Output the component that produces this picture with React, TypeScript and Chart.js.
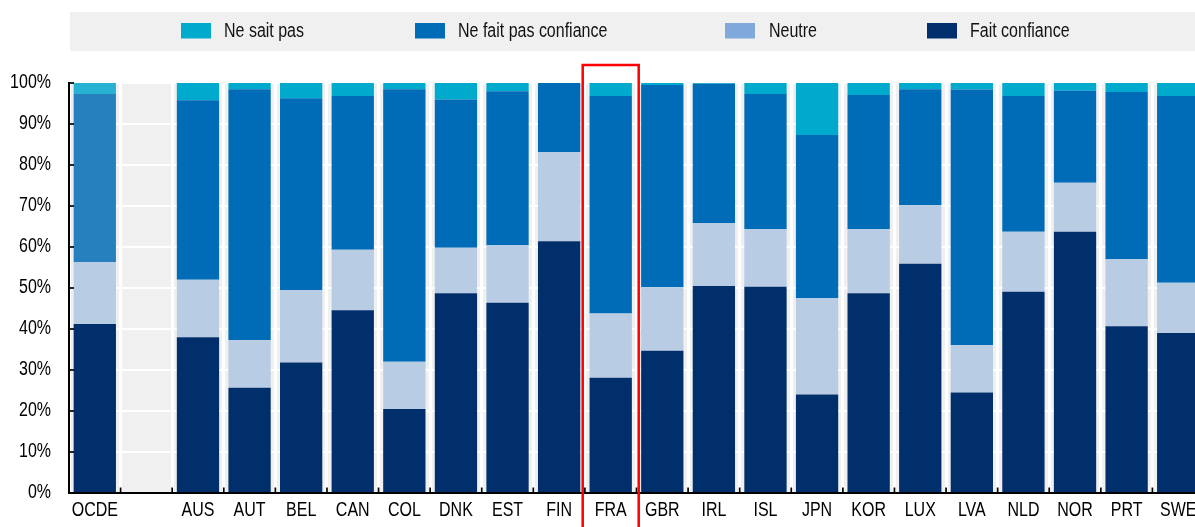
import React, { useEffect, useRef } from "react";
import { Chart, registerables } from "chart.js";

Chart.register(...registerables);

const categories = ["OCDE", "", "AUS", "AUT", "BEL", "CAN", "COL", "DNK", "EST", "FIN", "FRA", "GBR", "IRL", "ISL", "JPN", "KOR", "LUX", "LVA", "NLD", "NOR", "PRT", "SWE"];
const faitConfiance = [41.2, null, 38.0, 25.7, 31.8, 44.6, 20.5, 48.7, 46.4, 61.4, 28.1, 34.7, 50.5, 50.3, 24.0, 48.7, 55.9, 24.5, 49.1, 63.7, 40.7, 39.0];
const neutre = [15.1, null, 14.0, 11.6, 17.7, 14.7, 11.5, 11.1, 14.1, 21.7, 15.7, 15.5, 15.3, 14.0, 23.5, 15.6, 14.3, 11.6, 14.6, 12.0, 16.3, 12.3];
const neFaitPasConfiance = [41.0, null, 43.8, 61.2, 46.8, 37.5, 66.5, 36.2, 37.5, 16.9, 53.0, 49.3, 34.0, 33.0, 39.8, 32.8, 28.3, 62.3, 33.1, 22.4, 40.8, 45.5];
const neSaitPas = [2.7, null, 4.2, 1.5, 3.7, 3.2, 1.5, 4.0, 2.0, 0, 3.2, 0.5, 0.2, 2.7, 12.7, 2.9, 1.5, 1.6, 3.2, 1.9, 2.2, 3.2];
const yTicks = [0, 10, 20, 30, 40, 50, 60, 70, 80, 90, 100];
const highlighted = "FRA";
const average = "OCDE";

const FONT = "'Liberation Sans', Arial, sans-serif";
const NARROW = 0.82;

// legend layout (item label, square colour, square x, text x)
const legendItems = [
  { label: "Ne sait pas", color: "#00AACC", sx: 181, tx: 224 },
  { label: "Ne fait pas confiance", color: "#006BB6", sx: 415, tx: 458 },
  { label: "Neutre", color: "#80A8DA", sx: 725, tx: 769 },
  { label: "Fait confiance", color: "#002F6C", sx: 927, tx: 970 },
];

const colorFor = (base: string, avg: string) => (ctx: any) =>
  categories[ctx.dataIndex] === average ? avg : base;

function narrowText(ctx: any, text: string, x: number, y: number, align: string) {
  ctx.save();
  ctx.translate(x, y);
  ctx.scale(NARROW, 1);
  ctx.textAlign = align;
  ctx.fillText(text, 0, 0);
  ctx.restore();
}

const customPlugin = {
  id: "custom",
  beforeDraw(chart: any) {
    const { ctx, chartArea } = chart;
    ctx.save();
    ctx.fillStyle = "#F0F0F0";
    ctx.fillRect(chartArea.left, chartArea.top, chartArea.right - chartArea.left, chartArea.bottom - chartArea.top);
    // legend box
    ctx.fillRect(70, 12, chart.width - 70, 39);
    ctx.font = `19.5px ${FONT}`;
    ctx.textBaseline = "middle";
    legendItems.forEach((it) => {
      ctx.fillStyle = it.color;
      ctx.fillRect(it.sx, 23, 30, 15.5);
      ctx.fillStyle = "#111";
      narrowText(ctx, it.label, it.tx, 31.5, "left");
    });
    ctx.restore();
  },
  afterDraw(chart: any) {
    const { ctx, chartArea } = chart;
    const xs = chart.scales.x;
    const ys = chart.scales.y;
    ctx.save();
    // tick labels
    ctx.font = `19.5px ${FONT}`;
    ctx.fillStyle = "#000";
    ctx.textBaseline = "middle";
    yTicks.forEach((v) => {
      narrowText(ctx, `${v}%`, 51, ys.getPixelForValue(v), "right");
    });
    categories.forEach((c, i) => {
      if (c) narrowText(ctx, c, xs.getPixelForValue(i), 510.5, "center");
    });
    // inward tick marks
    ctx.strokeStyle = "#000";
    ctx.lineWidth = 1.7;
    const n = categories.length;
    const w = (chartArea.right - chartArea.left) / n;
    for (let i = 1; i < n; i++) {
      const x = chartArea.left + i * w;
      ctx.beginPath();
      ctx.moveTo(x, chartArea.bottom);
      ctx.lineTo(x, chartArea.bottom - 5.5);
      ctx.stroke();
    }
    yTicks.forEach((v) => {
      const y = ys.getPixelForValue(v);
      ctx.beginPath();
      ctx.moveTo(chartArea.left, y);
      ctx.lineTo(chartArea.left + 5, y);
      ctx.stroke();
    });
    // highlight box
    const idx = categories.indexOf(highlighted);
    const cx = xs.getPixelForValue(idx);
    ctx.strokeStyle = "#FF0000";
    ctx.lineWidth = 2.5;
    ctx.beginPath();
    ctx.moveTo(cx - 28, chart.height + 5);
    ctx.lineTo(cx - 28, 65);
    ctx.lineTo(cx + 28, 65);
    ctx.lineTo(cx + 28, chart.height + 5);
    ctx.stroke();
    ctx.restore();
  },
};

export default function App() {
  const ref = useRef<HTMLCanvasElement>(null);
  useEffect(() => {
    if (!ref.current) return;
    const chart = new Chart(ref.current, {
      type: "bar",
      data: {
        labels: categories,
        datasets: [
          { label: "Fait confiance", data: faitConfiance, backgroundColor: colorFor("#002F6C", "#002F6C") },
          { label: "Neutre", data: neutre, backgroundColor: colorFor("#B8CCE4", "#B8CCE4") },
          { label: "Ne fait pas confiance", data: neFaitPasConfiance, backgroundColor: colorFor("#006BB6", "#2780BE") },
          { label: "Ne sait pas", data: neSaitPas, backgroundColor: colorFor("#00AACC", "#27B1D2") },
        ] as any,
      },
      options: {
        responsive: false,
        animation: false,
        devicePixelRatio: 1,
        layout: { padding: { top: 83, left: 0, right: 0, bottom: 0 } },
        datasets: { bar: { categoryPercentage: 1, barPercentage: 0.82, borderWidth: 0 } },
        plugins: { legend: { display: false }, tooltip: { enabled: false }, title: { display: false } },
        scales: {
          x: {
            stacked: true,
            offset: true,
            grid: { offset: true, color: "#FFFFFF", lineWidth: 3, drawTicks: false },
            border: { display: true, color: "#000", width: 2 },
            ticks: { display: false, autoSkip: false },
            afterFit: (s: any) => { s.height = 34; },
          },
          y: {
            stacked: true,
            min: 0,
            max: 100,
            grid: { color: "#FFFFFF", lineWidth: 2, drawTicks: false },
            border: { display: true, color: "#000", width: 2 },
            ticks: { stepSize: 10, display: false },
            afterFit: (s: any) => { s.width = 69; },
          },
        },
      },
      plugins: [customPlugin],
    });
    return () => chart.destroy();
  }, []);
  return (
    <div style={{ position: "absolute", left: 0, top: 0, width: 1195, height: 527, overflow: "hidden", background: "#fff" }}>
      <canvas ref={ref} width={1204} height={527} style={{ display: "block", width: 1204, height: 527 }} />
    </div>
  );
}
